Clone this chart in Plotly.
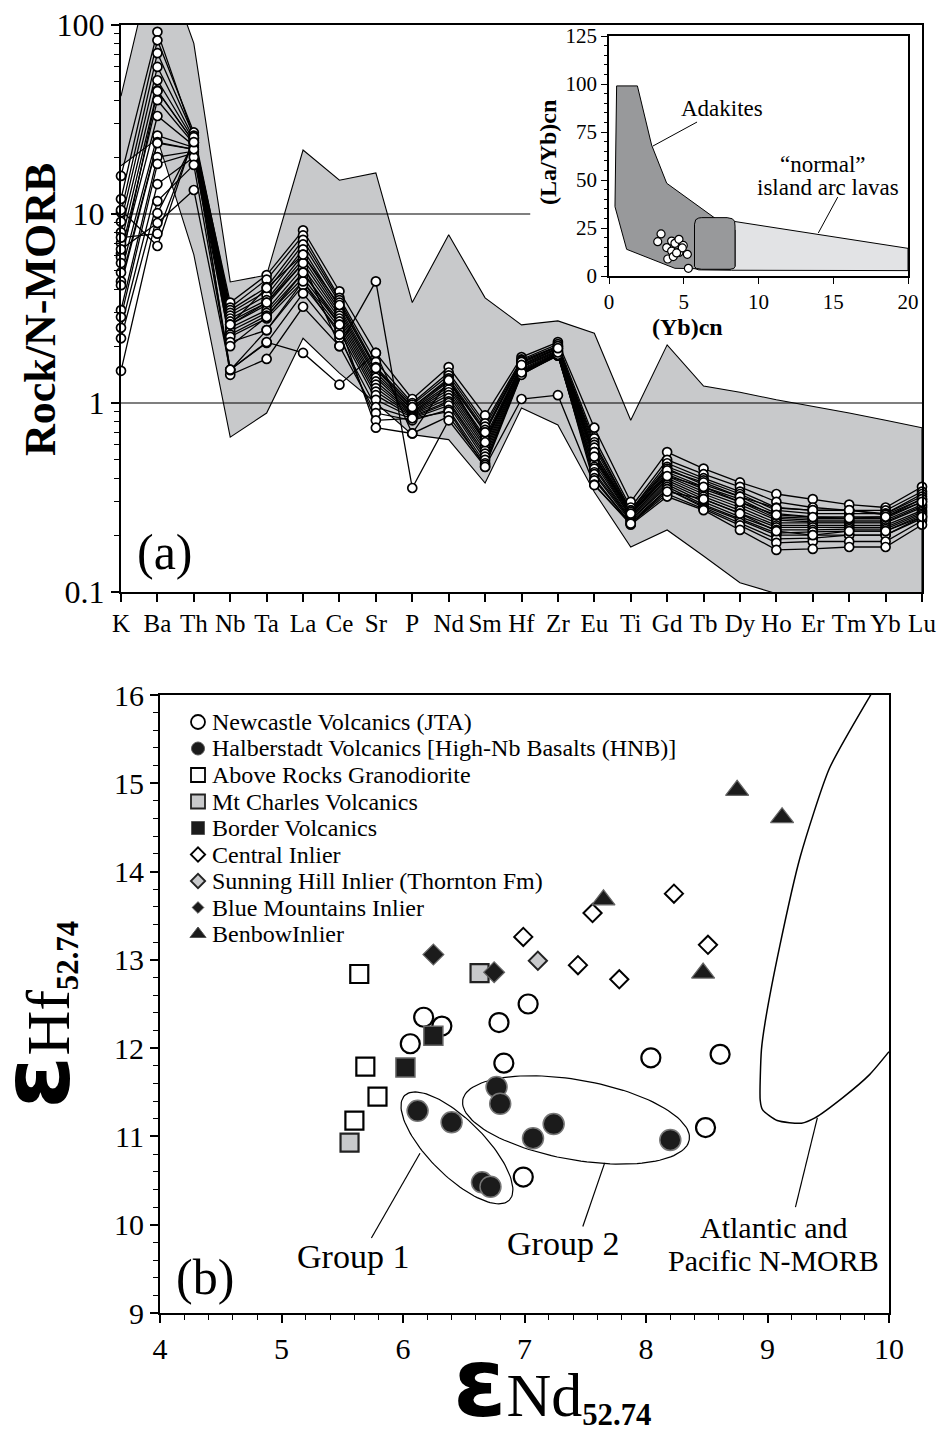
import numpy as np
import plotly.graph_objects as go

W, H = 941, 1435

# ---------------- DATA: panel (a) spider diagram ----------------
elements = ["K", "Ba", "Th", "Nb", "Ta", "La", "Ce", "Sr", "P", "Nd", "Sm", "Hf",
            "Zr", "Eu", "Ti", "Gd", "Tb", "Dy", "Ho", "Er", "Tm", "Yb", "Lu"]

field_upper = [42, 275, 80, 4.37, 4.75, 21.8, 15.1, 16.5, 3.4, 7.76, 3.6, 2.59,
               2.72, 2.34, 0.81, 2.03, 1.23, 1.14, 1.04, 0.96, 0.885, 0.81, 0.74]
field_lower = [18, 25, 6.1, 0.66, 0.885, 2.2, 1.44, 1.0, 0.68, 0.64, 0.377, 0.94,
               0.765, 0.338, 0.173, 0.213, 0.155, 0.112, 0.098, 0.09, 0.085, 0.08, 0.08]

s01 = [15.9, 92, 25.5, 3.4, 4.75, 8.2, 3.9, 1.84, 1.05, 1.55, 0.86, 1.75, 2.1, 0.74, 0.30, 0.55, 0.45, 0.38, 0.33, 0.31, 0.29, 0.28, 0.36]
s02 = [12.0, 83, 27, 3.2, 4.5, 7.7, 3.6, 1.65, 1.0, 1.45, 0.78, 1.70, 2.05, 0.65, 0.28, 0.50, 0.42, 0.36, 0.30, 0.28, 0.27, 0.27, 0.34]
s03 = [10.2, 71, 26, 3.1, 4.1, 7.3, 3.5, 1.55, 0.98, 1.40, 0.75, 1.68, 2.0, 0.62, 0.27, 0.48, 0.40, 0.34, 0.28, 0.27, 0.27, 0.26, 0.33]
s04 = [9.1, 60, 25, 3.0, 3.9, 6.9, 3.4, 1.50, 0.95, 1.35, 0.72, 1.65, 1.98, 0.60, 0.27, 0.46, 0.39, 0.33, 0.27, 0.26, 0.26, 0.26, 0.32]
s05 = [8.0, 51, 24.5, 2.9, 3.7, 6.5, 3.2, 1.45, 0.93, 1.30, 0.70, 1.63, 1.95, 0.58, 0.265, 0.45, 0.37, 0.32, 0.26, 0.25, 0.25, 0.25, 0.31]
s06 = [7.0, 45, 24, 2.8, 3.5, 6.1, 3.1, 1.40, 0.92, 1.25, 0.66, 1.60, 1.93, 0.55, 0.26, 0.43, 0.36, 0.31, 0.25, 0.245, 0.245, 0.245, 0.30]
s07 = [6.2, 40, 23.5, 2.7, 3.4, 5.8, 3.0, 1.36, 0.90, 1.22, 0.64, 1.58, 1.90, 0.53, 0.26, 0.42, 0.35, 0.30, 0.245, 0.24, 0.24, 0.24, 0.29]
s08 = [5.9, 33, 23, 2.6, 3.3, 5.5, 2.9, 1.30, 0.89, 1.18, 0.62, 1.56, 1.88, 0.51, 0.255, 0.41, 0.34, 0.29, 0.24, 0.235, 0.235, 0.235, 0.285]
s09 = [4.9, 26, 22.5, 2.5, 3.1, 5.2, 2.8, 1.25, 0.88, 1.14, 0.60, 1.55, 1.86, 0.50, 0.25, 0.40, 0.33, 0.28, 0.232, 0.232, 0.232, 0.232, 0.28]
s10 = [4.4, 24, 22, 2.4, 3.0, 4.9, 2.7, 1.20, 0.87, 1.10, 0.58, 1.52, 1.84, 0.48, 0.25, 0.39, 0.32, 0.27, 0.225, 0.225, 0.225, 0.225, 0.27]
s11 = [3.1, 20, 21.5, 2.3, 2.9, 4.6, 2.6, 1.15, 0.86, 1.06, 0.56, 1.50, 1.82, 0.46, 0.245, 0.38, 0.31, 0.26, 0.22, 0.22, 0.22, 0.22, 0.265]
s12 = [2.85, 18.4, 21, 2.24, 2.8, 4.4, 2.5, 1.10, 0.85, 1.02, 0.54, 1.48, 1.80, 0.45, 0.24, 0.37, 0.30, 0.25, 0.213, 0.213, 0.215, 0.215, 0.26]
s13 = [2.5, 14.4, 20, 2.1, 2.43, 4.2, 2.4, 1.04, 0.84, 1.0, 0.52, 1.46, 1.79, 0.43, 0.24, 0.36, 0.29, 0.245, 0.205, 0.208, 0.21, 0.21, 0.255]
s14 = [2.2, 11.7, 18.2, 1.5, 2.08, 3.8, 2.2, 0.95, 0.83, 0.97, 0.50, 1.44, 1.78, 0.42, 0.235, 0.35, 0.285, 0.24, 0.2, 0.2, 0.2, 0.2, 0.25]
s15 = [1.48, 10.1, 24, 1.41, 1.71, 3.23, 2.0, 0.885, 0.81, 0.92, 0.48, 1.42, 1.78, 0.40, 0.23, 0.35, 0.28, 0.232, 0.191, 0.193, 0.2, 0.2, 0.245]
s16 = [6.5, 8.96, 13.4, 1.49, 2.43, 4.4, 2.3, 0.81, 0.83, 0.90, 0.46, 1.41, 1.80, 0.39, 0.23, 0.33, 0.275, 0.225, 0.182, 0.185, 0.185, 0.185, 0.238]
s17 = [7.5, 7.87, 25, 2.0, 2.85, 4.9, 2.6, 0.74, 0.69, 0.85, 0.47, 1.45, 1.85, 0.37, 0.227, 0.32, 0.271, 0.213, 0.167, 0.169, 0.173, 0.173, 0.227]
s18 = [10.5, 6.77, 25.5, 2.6, 3.4, 5.5, 2.0, 4.4, 0.355, 0.81, 0.459, 1.05, 1.1, 0.368, 0.23, 0.34, 0.31, 0.26, 0.21, 0.20, 0.21, 0.21, 0.25]
s19 = [4.2, 23.7, 22, 1.5, 2.1, 1.84, 1.25, 1.84, 0.69, 1.32, 0.70, 1.65, 2.0, 0.55, 0.265, 0.44, 0.38, 0.32, 0.278, 0.271, 0.271, 0.256, 0.31]
s20 = [5.5, 44.7, 24, 2.6, 4.06, 6.1, 3.3, 1.53, 0.95, 1.32, 0.62, 1.59, 1.95, 0.52, 0.26, 0.41, 0.36, 0.30, 0.256, 0.249, 0.246, 0.25, 0.30]
samples = [s01, s02, s03, s04, s05, s06, s07, s08, s09, s10,
           s11, s12, s13, s14, s15, s16, s17, s18, s19, s20]

# ---------------- DATA: inset (La/Yb)cn vs (Yb)cn ----------------
adakite_yb = [0.51, 1.90, 2.85, 3.86, 7.2, 8.43, 8.43, 8.09, 4.41, 1.18, 0.40, 0.51]
adakite_layb = [99.0, 99.0, 68.2, 48.3, 29.5, 24.0, 4.9, 3.5, 4.0, 13.9, 36.1, 99.0]
arc_yb = [5.72, 5.72, 6.2, 7.4, 20.0, 20.0, 8.2, 6.0, 5.72]
arc_layb = [4.0, 28.0, 30.4, 29.6, 14.4, 2.8, 3.0, 3.2, 4.0]
overlap_yb = [6.2, 7.9, 8.25, 8.4, 8.43, 8.43, 8.35, 8.1, 6.2, 5.85, 5.72, 5.72, 5.8, 6.0, 6.2]
overlap_layb = [30.4, 30.4, 29.8, 28.5, 26.0, 5.0, 3.9, 3.5, 3.5, 3.9, 5.0, 27.0, 29.3, 30.2, 30.4]
inset_yb = [3.48, 3.26, 3.86, 4.19, 4.41, 4.68, 4.19, 3.93, 4.68, 4.97, 5.24, 5.31, 4.90, 4.30, 4.52]
inset_layb = [21.9, 17.9, 14.8, 18.2, 17.0, 19.1, 13.0, 8.85, 12.3, 15.9, 11.3, 4.0, 14.6, 10.1, 12.0]

# ---------------- DATA: panel (b) eHf vs eNd ----------------
newcastle_nd = [6.17, 6.32, 6.06, 6.79, 7.03, 6.83, 8.04, 8.61, 8.49, 6.99]
newcastle_hf = [12.35, 12.25, 12.05, 12.29, 12.50, 11.83, 11.89, 11.93, 11.10, 10.54]
halb_nd = [6.12, 6.40, 6.77, 6.80, 7.07, 7.24, 8.20, 6.65, 6.72]
halb_hf = [11.29, 11.16, 11.56, 11.37, 10.98, 11.14, 10.96, 10.48, 10.43]
above_nd = [5.64, 5.69, 5.79, 5.60]
above_hf = [12.84, 11.79, 11.45, 11.18]
mtcharles_nd = [5.56, 6.63]
mtcharles_hf = [10.93, 12.85]
border_nd = [6.25, 6.02]
border_hf = [12.14, 11.78]
central_nd = [7.56, 8.23, 8.51, 7.78, 7.44, 6.99]
central_hf = [13.53, 13.75, 13.17, 12.78, 12.94, 13.26]
sunning_nd = [7.11]
sunning_hf = [12.99]
bluemtn_nd = [6.25, 6.75]
bluemtn_hf = [13.06, 12.86]
benbow_nd = [8.75, 9.12, 7.65, 8.47]
benbow_hf = [14.92, 14.61, 13.68, 12.85]
morb_nd = [9.87, 9.84, 9.51, 9.27, 9.10, 8.98, 8.95, 8.94, 8.96, 9.08, 9.28, 9.39, 9.62, 9.84, 10.0]
morb_hf = [16.05, 15.98, 15.17, 14.17, 13.15, 12.29, 11.98, 11.41, 11.30, 11.18, 11.15, 11.21, 11.44, 11.70, 11.96]

legend_names = ["Newcastle Volcanics (JTA)",
                "Halberstadt Volcanics [High-Nb Basalts (HNB)]",
                "Above Rocks Granodiorite",
                "Mt Charles Volcanics",
                "Border Volcanics",
                "Central Inlier",
                "Sunning Hill Inlier (Thornton Fm)",
                "Blue Mountains Inlier",
                "BenbowInlier"]

# ---------------- LAYOUT GEOMETRY (pixels) ----------------
A_L, A_R, A_T, A_B = 121, 922, 25, 592
I_L, I_R, I_T, I_B = 609, 908, 36, 276
B_L, B_R, B_T, B_B = 160, 889, 695, 1313
B_XR = [4, 10]
B_YR = [9, 16]

def fx(p):
    return p / W

def fy(p):
    return 1 - p / H

SERIF = "Liberation Serif"
DARK = "#1b1b1b"

fig = go.Figure()

# ---- panel (a) ----
xi = list(range(len(elements)))
fig.add_trace(go.Scatter(
    x=xi + xi[::-1], y=field_upper + field_lower[::-1],
    fill="toself", fillcolor="rgb(200,201,203)", mode="lines",
    line=dict(color="black", width=1.1), xaxis="x", yaxis="y",
    showlegend=False, hoverinfo="skip"))
fig.add_trace(go.Scatter(x=[xi[0], xi[-1]], y=[1, 1], mode="lines",
                         line=dict(color="black", width=1.1),
                         xaxis="x", yaxis="y", showlegend=False))
fig.add_trace(go.Scatter(x=[xi[0], 11.24], y=[10, 10], mode="lines",
                         line=dict(color="black", width=1.1),
                         xaxis="x", yaxis="y", showlegend=False))
for s in samples:
    fig.add_trace(go.Scatter(x=xi, y=s, mode="lines",
                             line=dict(color="black", width=1.3),
                             xaxis="x", yaxis="y", showlegend=False,
                             cliponaxis=False))
for s in samples:
    fig.add_trace(go.Scatter(x=xi, y=s, mode="markers",
                             marker=dict(symbol="circle", size=9, color="white",
                                         line=dict(color="black", width=1.7)),
                             xaxis="x", yaxis="y", showlegend=False,
                             cliponaxis=False))

# ---- inset ----
fig.add_trace(go.Scatter(x=arc_yb, y=arc_layb, fill="toself",
                         fillcolor="rgb(226,227,229)", mode="lines",
                         line=dict(color="black", width=1),
                         xaxis="x2", yaxis="y2", showlegend=False))
fig.add_trace(go.Scatter(x=adakite_yb, y=adakite_layb, fill="toself",
                         fillcolor="rgb(152,153,155)", mode="lines",
                         line=dict(color="black", width=1),
                         xaxis="x2", yaxis="y2", showlegend=False))
fig.add_trace(go.Scatter(x=overlap_yb, y=overlap_layb, fill="toself",
                         fillcolor="rgb(152,153,155)", mode="lines",
                         line=dict(color="black", width=1),
                         xaxis="x2", yaxis="y2", showlegend=False))
fig.add_trace(go.Scatter(x=inset_yb, y=inset_layb, mode="markers",
                         marker=dict(symbol="circle", size=8, color="white",
                                     line=dict(color="black", width=1.2)),
                         xaxis="x2", yaxis="y2", showlegend=False,
                         cliponaxis=False))

# ---- panel (b) ----
fig.add_trace(go.Scatter(x=morb_nd, y=morb_hf, mode="lines",
                         line=dict(color="black", width=1.5, shape="spline", smoothing=0.6),
                         xaxis="x3", yaxis="y3", showlegend=False))

sx = (B_R - B_L) / (B_XR[1] - B_XR[0])
sy = (B_B - B_T) / (B_YR[1] - B_YR[0])

def ellipse(cx, cy, a, b, ang_deg):
    t = np.linspace(0, 2 * np.pi, 121)
    ang = np.radians(ang_deg)
    dx = a * np.cos(t) * np.cos(ang) - b * np.sin(t) * np.sin(ang)
    dy = a * np.cos(t) * np.sin(ang) + b * np.sin(t) * np.cos(ang)
    return cx + dx / sx, cy - dy / sy

for (cx, cy, a, b, ang) in [(6.444, 10.87, 74, 28, 45), (7.424, 11.187, 115, 40, 10)]:
    ex, ey = ellipse(cx, cy, a, b, ang)
    fig.add_trace(go.Scatter(x=ex, y=ey, mode="lines",
                             line=dict(color="black", width=1.2),
                             xaxis="x3", yaxis="y3", showlegend=False))

groups = [
    (newcastle_nd, newcastle_hf, dict(symbol="circle", size=19, color="white", line=dict(color="black", width=2.2))),
    (above_nd, above_hf, dict(symbol="square", size=18, color="white", line=dict(color="black", width=2.2))),
    (mtcharles_nd, mtcharles_hf, dict(symbol="square", size=18, color="rgb(200,201,203)", line=dict(color="#222", width=2.2))),
    (border_nd, border_hf, dict(symbol="square", size=19, color=DARK, line=dict(color="#666", width=1.5))),
    (halb_nd, halb_hf, dict(symbol="circle", size=21, color=DARK, line=dict(color="#777", width=1.5))),
    (central_nd, central_hf, dict(symbol="diamond", size=14, color="white", line=dict(color="black", width=2))),
    (sunning_nd, sunning_hf, dict(symbol="diamond", size=14, color="rgb(200,201,203)", line=dict(color="#222", width=2))),
    (bluemtn_nd, bluemtn_hf, dict(symbol="diamond", size=16, color=DARK, line=dict(color="#666", width=1.2))),
    (benbow_nd, benbow_hf, dict(symbol="triangle-up", size=20, color=DARK, line=dict(color="#666", width=1.2))),
]
for gx, gy, mk in groups:
    fig.add_trace(go.Scatter(x=gx, y=gy, mode="markers", marker=mk,
                             xaxis="x3", yaxis="y3", showlegend=False,
                             cliponaxis=False))

# ---- hand-drawn legend (symbols on a pixel overlay axis) ----
LEG_SX, LEG_TX, LEG_Y0, LEG_DY = 198, 210, 722, 26.5
legend_markers = [
    dict(symbol="circle", size=14, color="white", line=dict(color="black", width=1.8)),
    dict(symbol="circle", size=13, color=DARK, line=dict(color="#555", width=1)),
    dict(symbol="square", size=14, color="white", line=dict(color="black", width=1.8)),
    dict(symbol="square", size=14, color="rgb(200,201,203)", line=dict(color="#222", width=1.8)),
    dict(symbol="square", size=13, color=DARK, line=dict(color="#555", width=1)),
    dict(symbol="diamond", size=11, color="white", line=dict(color="black", width=1.8)),
    dict(symbol="diamond", size=11, color="rgb(200,201,203)", line=dict(color="#222", width=1.8)),
    dict(symbol="diamond", size=9, color=DARK, line=dict(color="#555", width=1)),
    dict(symbol="triangle-up", size=14, color=DARK, line=dict(color="#555", width=1)),
]
annotations = []
for i, (name, mk) in enumerate(zip(legend_names, legend_markers)):
    yy = LEG_Y0 + i * LEG_DY
    fig.add_trace(go.Scatter(x=[LEG_SX], y=[yy], mode="markers", marker=mk,
                             xaxis="x4", yaxis="y4", showlegend=False,
                             cliponaxis=False))
    annotations.append(dict(x=fx(LEG_TX), y=fy(yy), xref="paper", yref="paper",
                            text=name, showarrow=False, xanchor="left", yanchor="middle",
                            font=dict(family=SERIF, size=24, color="black")))

# ---- shapes: leader lines ----
shapes = []
for (x0, y0, x1, y1) in [(6.14, 10.81, 5.74, 9.85), (7.66, 10.70, 7.48, 9.98), (9.41, 11.21, 9.23, 10.20)]:
    shapes.append(dict(type="line", xref="x3", yref="y3", x0=x0, y0=y0, x1=x1, y1=y1,
                       line=dict(color="black", width=1.2)))
for (x0, y0, x1, y1) in [(5.89, 80.2, 2.94, 67.7), (15.3, 41.1, 14.0, 22.4)]:
    shapes.append(dict(type="line", xref="x2", yref="y2", x0=x0, y0=y0, x1=x1, y1=y1,
                       line=dict(color="black", width=1)))

def txt(x, y, text, size, angle=0, family=SERIF, xanchor="center"):
    annotations.append(dict(x=fx(x), y=fy(y), xref="paper", yref="paper", text=text,
                            showarrow=False, xanchor=xanchor, yanchor="middle",
                            textangle=angle, font=dict(family=family, size=size, color="black")))

txt(40, 310, "<b>Rock/N-MORB</b>", 44, angle=-90)
txt(165, 552, "(a)", 50)
txt(722, 108, "Adakites", 23)
txt(823, 165, "\u201cnormal\u201d", 23)
txt(828, 188, "island arc lavas", 23)
txt(687, 327, "<b>(Yb)cn</b>", 24)
txt(548, 153, "<b>(La/Yb)cn</b>", 24, angle=-90)
txt(205, 1277, "(b)", 50)
txt(353, 1256, "Group 1", 34)
txt(563, 1243, "Group 2", 34)
txt(773, 1227, "Atlantic and", 30)
txt(773, 1260, "Pacific N-MORB", 30)
eps = '<span style="font-family:DejaVu Sans;font-weight:bold;font-size:96px">\u03b5</span>'
txt(552, 1383, eps + '<span style="font-size:62px">Nd</span><sub><b>52.74</b></sub>', 44)
txt(36, 1015, eps + '<span style="font-size:62px">Hf</span><sub><b>52.74</b></sub>', 44, angle=-90)

axis_common = dict(showgrid=False, zeroline=False, showline=True, linecolor="black",
                   ticks="outside", tickcolor="black", mirror=True, automargin=False)

fig.update_layout(
    width=W, height=H, margin=dict(l=0, r=0, t=0, b=0, autoexpand=False),
    paper_bgcolor="white", plot_bgcolor="rgba(0,0,0,0)",
    showlegend=False,
    xaxis=dict(axis_common, domain=[fx(A_L), fx(A_R)], range=[0, len(elements) - 1],
               tickvals=xi, ticktext=elements, ticklen=8, tickwidth=1.5, linewidth=2,
               tickfont=dict(family=SERIF, size=25, color="black"), anchor="y"),
    yaxis=dict(axis_common, domain=[fy(A_B), fy(A_T)], type="log", range=[-1, 2],
               tickvals=[0.1, 1, 10, 100], ticktext=["0.1", "1", "10", "100"],
               ticklen=8, tickwidth=1.5, linewidth=2,
               minor=dict(ticks="outside", ticklen=5, tickcolor="black", tickwidth=1.2,
                          tickvals=[m * d for d in (0.1, 1, 10) for m in range(2, 10)]),
               tickfont=dict(family=SERIF, size=32, color="black"), anchor="x"),
    xaxis2=dict(axis_common, domain=[fx(I_L), fx(I_R)], range=[0, 20],
                tickvals=[0, 5, 10, 15, 20], ticklen=6, tickwidth=1.2, linewidth=1.5,
                tickfont=dict(family=SERIF, size=21, color="black"), anchor="y2"),
    yaxis2=dict(axis_common, domain=[fy(I_B), fy(I_T)], range=[0, 125],
                tickvals=[0, 25, 50, 75, 100, 125], ticklen=6, tickwidth=1.2, linewidth=1.5,
                minor=dict(ticks="outside", ticklen=3, dtick=5, tickcolor="black", tickwidth=1),
                tickfont=dict(family=SERIF, size=21, color="black"), anchor="x2"),
    xaxis3=dict(axis_common, domain=[fx(B_L), fx(B_R)], range=B_XR,
                tickvals=list(range(4, 11)), ticklen=8, tickwidth=1.5, linewidth=2,
                minor=dict(ticks="outside", ticklen=5, dtick=0.2, tickcolor="black", tickwidth=1.2),
                tickfont=dict(family=SERIF, size=30, color="black"), anchor="y3"),
    yaxis3=dict(axis_common, domain=[fy(B_B), fy(B_T)], range=B_YR,
                tickvals=list(range(9, 17)), ticklen=8, tickwidth=1.5, linewidth=2,
                minor=dict(ticks="outside", ticklen=5, dtick=0.2, tickcolor="black", tickwidth=1.2),
                tickfont=dict(family=SERIF, size=30, color="black"), anchor="x3"),
    xaxis4=dict(domain=[0, 1], range=[0, W], visible=False, anchor="y4", automargin=False),
    yaxis4=dict(domain=[0, 1], range=[H, 0], visible=False, anchor="x4", automargin=False),
    annotations=annotations,
    shapes=shapes,
)

fig.write_html("out.html")
